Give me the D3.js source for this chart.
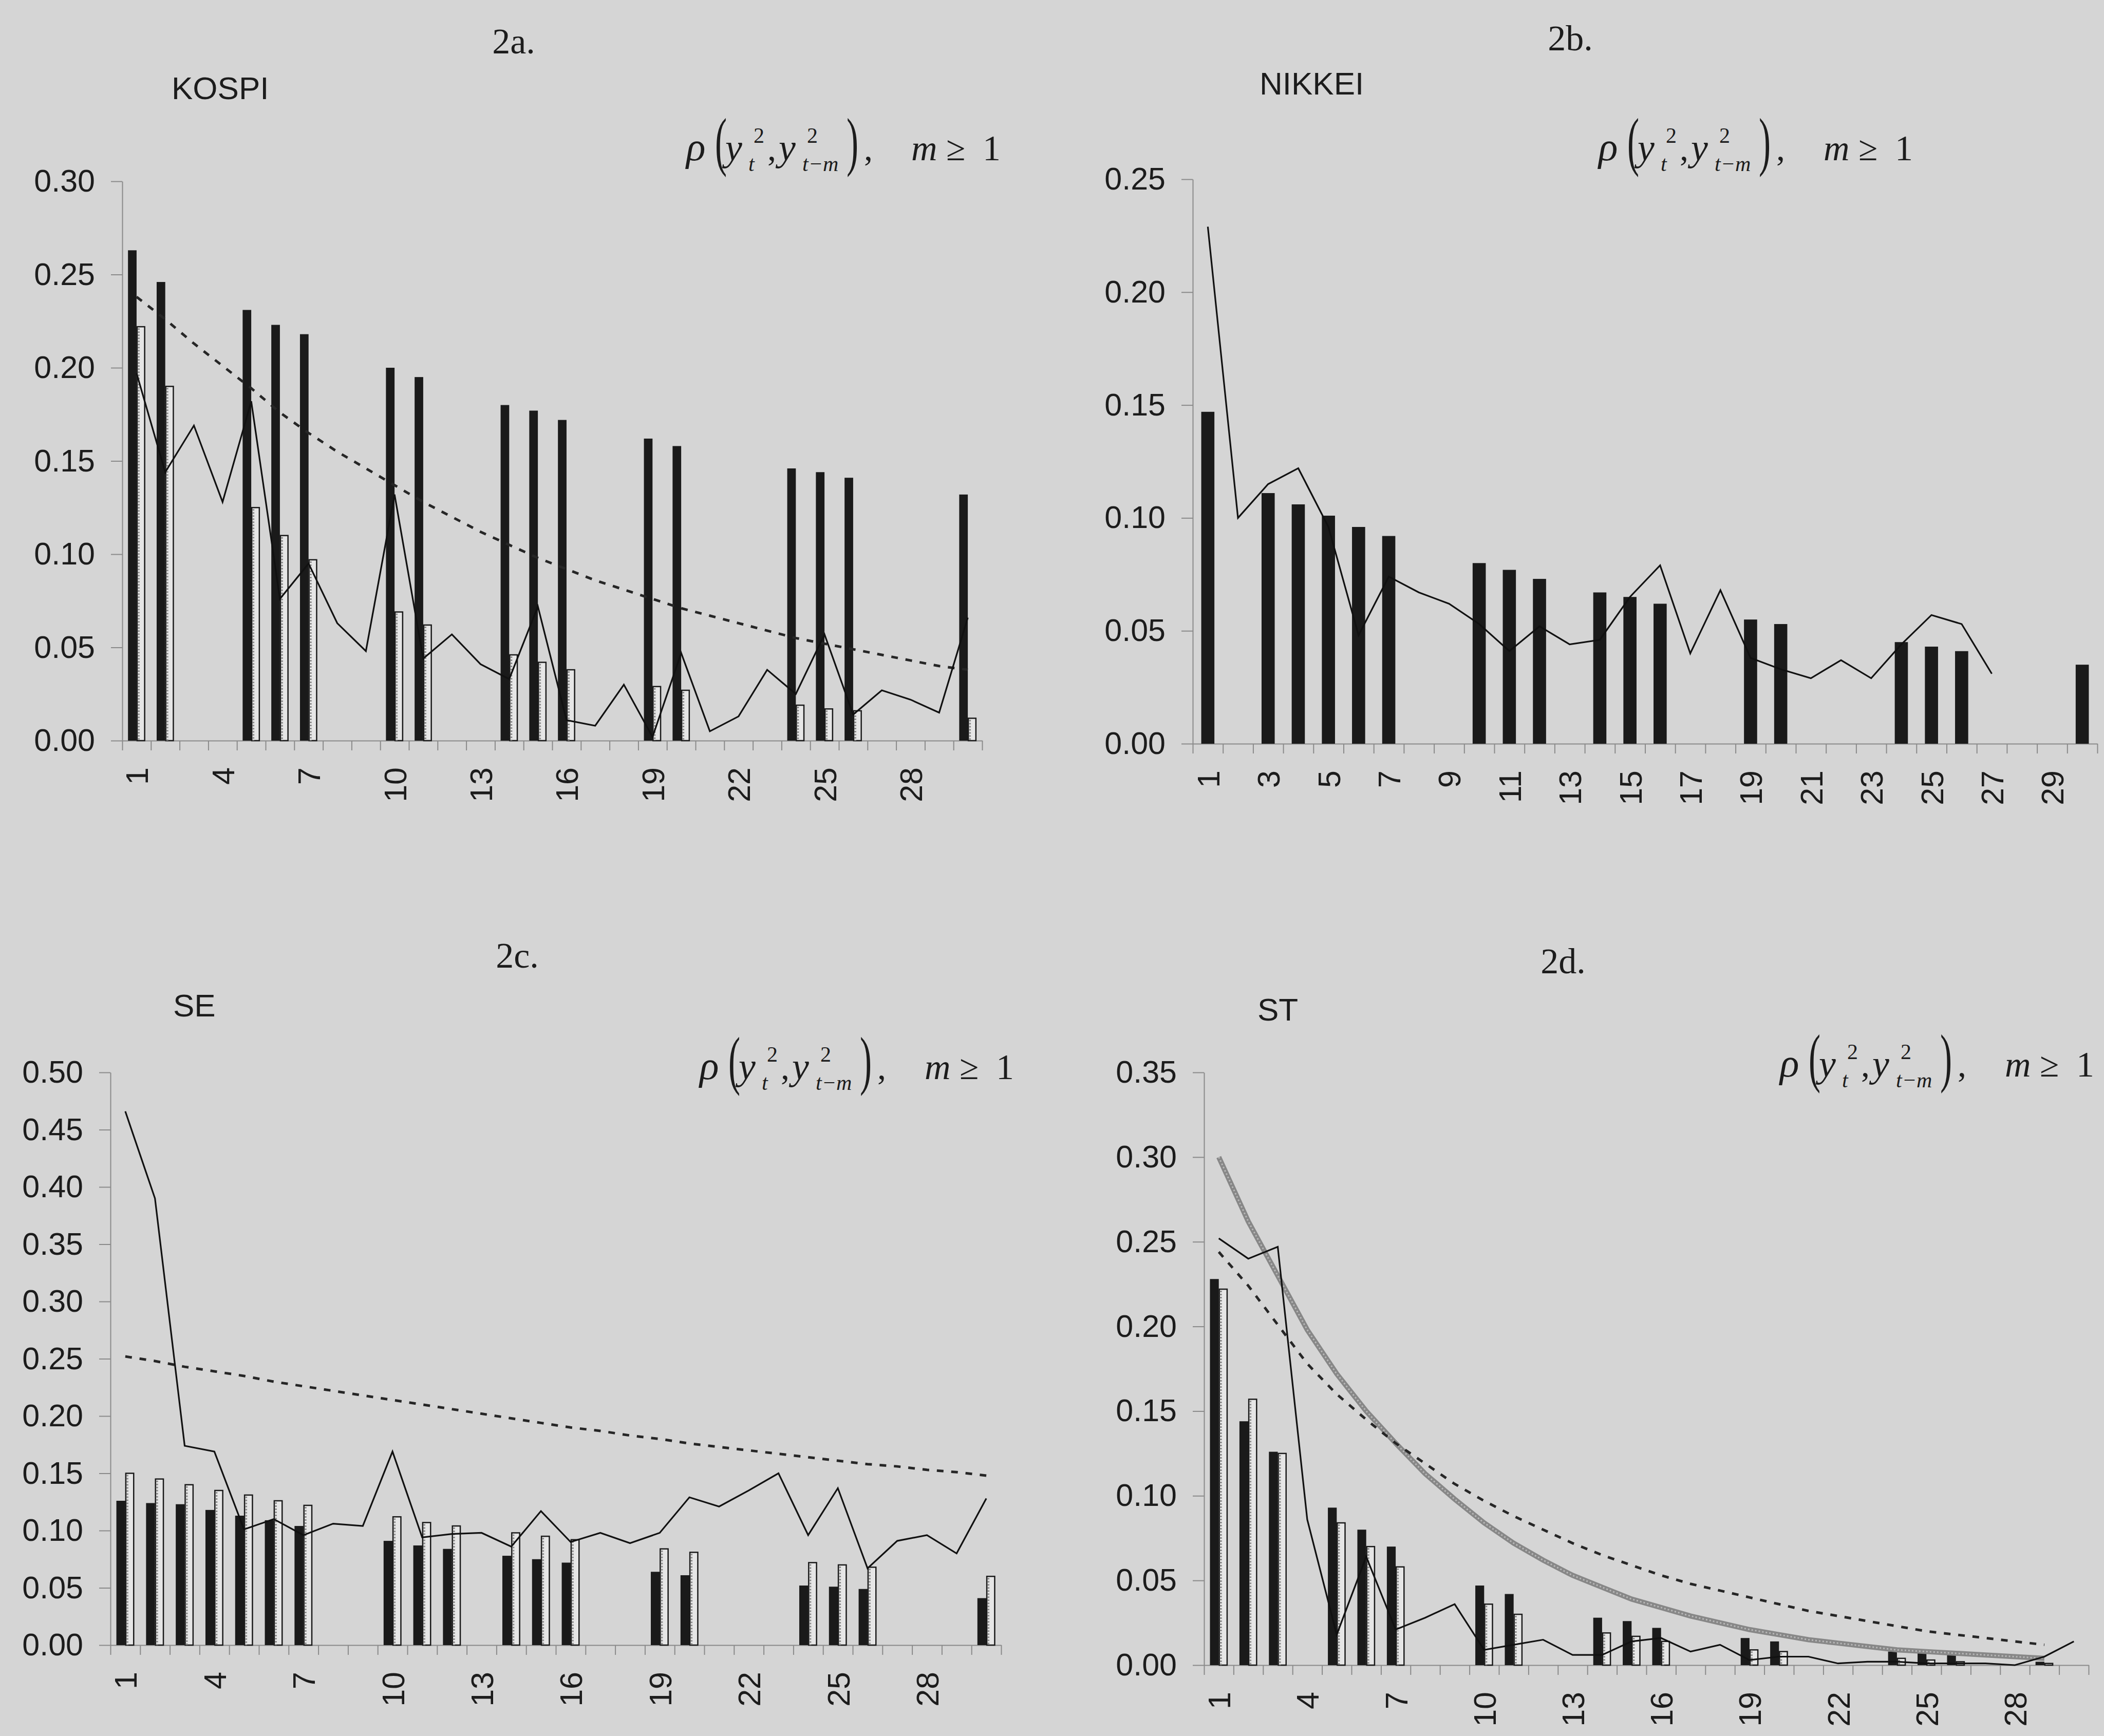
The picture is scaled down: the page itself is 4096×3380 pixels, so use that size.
<!DOCTYPE html>
<html>
<head>
<meta charset="utf-8">
<script src="https://cdn.jsdelivr.net/npm/d3@7"></script>
<style>
  body { margin: 0; background: #d5d5d5; }
  svg { display: block; }
</style>
</head>
<body>
<svg id="chart" width="4096" height="3380"></svg>
<script>
// ---- data ----
const lags = [1,2,3,4,5,6,7,8,9,10,11,12,13,14,15,16,17,18,19,20,21,22,23,24,25,26,27,28,29,30];
const labelsEvery3 = [1,4,7,10,13,16,19,22,25,28];
const labelsEvery2 = [1,3,5,7,9,11,13,15,17,19,21,23,25,27,29];

const yTicksA = [0, 0.05, 0.10, 0.15, 0.20, 0.25, 0.30];
const yTicksB = [0, 0.05, 0.10, 0.15, 0.20, 0.25];
const yTicksC = [0, 0.05, 0.10, 0.15, 0.20, 0.25, 0.30, 0.35, 0.40, 0.45, 0.50];
const yTicksD = [0, 0.05, 0.10, 0.15, 0.20, 0.25, 0.30, 0.35];

// 2a. KOSPI
const kospiBarLags = [1,2,5,6,7,10,11,14,15,16,19,20,24,25,26,30];
const kospiBlack = [0.263,0.246,0.231,0.223,0.218,0.200,0.195,0.180,0.177,0.172,0.162,0.158,0.146,0.144,0.141,0.132];
const kospiWhite = [0.222,0.190,0.125,0.110,0.097,0.069,0.062,0.046,0.042,0.038,0.029,0.027,0.019,0.017,0.016,0.012];
const kospiSolid = [0.197,0.144,0.169,0.128,0.182,0.076,0.095,0.063,0.048,0.132,0.044,0.057,0.041,0.033,0.072,
                    0.011,0.008,0.030,0.002,0.047,0.005,0.013,0.038,0.025,0.057,0.014,0.027,0.022,0.015,0.066];
const kospiDotted = [0.238,0.226,0.213,0.201,0.189,0.176,0.165,0.155,0.146,0.137,0.128,0.120,0.112,0.105,0.098,
                     0.092,0.086,0.081,0.076,0.071,0.067,0.063,0.059,0.055,0.052,0.049,0.046,0.043,0.040,0.038];

// 2b. NIKKEI
const nikkeiBarLags = [1,3,4,5,6,7,10,11,12,14,15,16,19,20,24,25,26,30];
const nikkeiBlack = [0.147,0.111,0.106,0.101,0.096,0.092,0.080,0.077,0.073,0.067,0.065,0.062,0.055,0.053,0.045,0.043,0.041,0.035];
const nikkeiSolid = [0.229,0.100,0.115,0.122,0.096,0.048,0.074,0.067,0.062,0.053,0.041,0.052,0.044,0.046,0.065,
                     0.079,0.040,0.068,0.038,0.033,0.029,0.037,0.029,0.044,0.057,0.053,0.031];

// 2c. SE
const seBarLags = [1,2,3,4,5,6,7,10,11,12,14,15,16,19,20,24,25,26,30];
const seBlack = [0.126,0.124,0.123,0.118,0.113,0.109,0.104,0.091,0.087,0.084,0.078,0.075,0.072,0.064,0.061,0.052,0.051,0.049,0.041];
const seWhite = [0.150,0.145,0.140,0.135,0.131,0.126,0.122,0.112,0.107,0.104,0.098,0.095,0.092,0.084,0.081,0.072,0.070,0.068,0.060];
const seSolid = [0.466,0.390,0.174,0.169,0.101,0.110,0.096,0.106,0.104,0.169,0.094,0.097,0.098,0.086,0.117,
                 0.090,0.098,0.089,0.098,0.129,0.121,0.135,0.150,0.096,0.137,0.067,0.091,0.096,0.080,0.128];
const seDotted = [0.252,0.248,0.243,0.239,0.235,0.230,0.226,0.222,0.218,0.214,0.210,0.206,0.202,0.198,0.194,
                  0.190,0.187,0.183,0.180,0.176,0.173,0.170,0.167,0.164,0.161,0.158,0.156,0.153,0.151,0.148];

// 2d. ST
const stBarLags = [1,2,3,5,6,7,10,11,14,15,16,19,20,24,25,26,29];
const stBlack = [0.228,0.144,0.126,0.093,0.080,0.070,0.047,0.042,0.028,0.026,0.022,0.016,0.014,0.008,0.007,0.006,0.002];
const stWhite = [0.222,0.157,0.125,0.084,0.070,0.058,0.036,0.030,0.019,0.017,0.014,0.009,0.008,0.004,0.003,0.002,0.001];
const stSolid = [0.252,0.240,0.247,0.086,0.018,0.064,0.021,0.028,0.036,0.009,0.012,0.015,0.006,0.006,0.014,
                 0.016,0.008,0.012,0.003,0.005,0.005,0.001,0.002,0.002,0.001,0.001,0.001,0.000,0.005,0.014];
const stDotted = [0.244,0.224,0.201,0.178,0.160,0.145,0.131,0.119,0.107,0.097,0.088,0.080,0.072,0.065,0.059,
                  0.053,0.048,0.044,0.040,0.036,0.032,0.029,0.026,0.023,0.020,0.018,0.016,0.014,0.012];
const stGray = [0.300,0.262,0.230,0.198,0.172,0.150,0.131,0.113,0.098,0.084,0.072,0.062,0.053,0.046,0.039,
                0.034,0.029,0.025,0.021,0.018,0.015,0.013,0.011,0.009,0.008,0.007,0.006,0.005,0.004];

// ---- layout ----
const SANS = 'Liberation Sans, Arial, sans-serif';
const SERIF = 'Liberation Serif, Times New Roman, serif';
const INK = '#1c1c1c';
const AXIS = '#8a8a8a';

const panels = [
  { title: '2a.', name: 'KOSPI', titleX: 1000, titleY: 104, nameX: 334, nameY: 193, fx: 1336, fy: 312,
    x0: 238, x1: 1912, yTop: 353, yZero: 1442, yTicks: yTicksA, labels: labelsEvery3, pairs: true,
    barLags: kospiBarLags, black: kospiBlack, white: kospiWhite, solid: kospiSolid, dotted: kospiDotted },
  { title: '2b.', name: 'NIKKEI', titleX: 3057, titleY: 98, nameX: 2452, nameY: 184, fx: 3112, fy: 312,
    x0: 2322, x1: 4083, yTop: 349, yZero: 1448, yTicks: yTicksB, labels: labelsEvery2, pairs: false,
    barLags: nikkeiBarLags, black: nikkeiBlack, solid: nikkeiSolid },
  { title: '2c.', name: 'SE', titleX: 1007, titleY: 1884, nameX: 337, nameY: 1979, fx: 1362, fy: 2101,
    x0: 215, x1: 1949, yTop: 2088, yZero: 3203, yTicks: yTicksC, labels: labelsEvery3, pairs: true,
    barLags: seBarLags, black: seBlack, white: seWhite, solid: seSolid, dotted: seDotted },
  { title: '2d.', name: 'ST', titleX: 3043, titleY: 1895, nameX: 2448, nameY: 1987, fx: 3465, fy: 2096,
    x0: 2344, x1: 4066, yTop: 2088, yZero: 3242, yTicks: yTicksD, labels: labelsEvery3, pairs: true,
    barLags: stBarLags, black: stBlack, white: stWhite, solid: stSolid, dotted: stDotted, gray: stGray }
];

const svg = d3.select('#chart');
svg.append('rect').attr('width', 4096).attr('height', 3380).attr('fill', '#d5d5d5');

function drawFormula(g, fx, fy) {
  const f = g.append('g').attr('transform', `translate(${fx},${fy})`)
    .attr('fill', INK).attr('font-family', SERIF);
  const parts = [
    { s: 'ρ', dx: 0, dy: 0, size: 78, it: true },
    { s: 'y', dx: 76, dy: 0, size: 74, it: true },
    { s: '2', dx: 131, dy: -34, size: 42 },
    { s: 't', dx: 121, dy: 21, size: 42, it: true },
    { s: ',', dx: 158, dy: 0, size: 68 },
    { s: 'y', dx: 180, dy: 0, size: 74, it: true },
    { s: '2', dx: 235, dy: -34, size: 42 },
    { s: 't−m', dx: 226, dy: 21, size: 42, it: true },
    { s: ',', dx: 346, dy: 0, size: 68 },
    { s: 'm', dx: 438, dy: 0, size: 70, it: true },
    { s: '≥', dx: 506, dy: 0, size: 68 },
    { s: '1', dx: 577, dy: 0, size: 70 }
  ];
  parts.forEach(p => {
    f.append('text').attr('x', p.dx).attr('y', p.dy)
      .attr('font-size', p.size).attr('font-style', p.it ? 'italic' : 'normal').text(p.s);
  });
  [['(', 56], [')', 312]].forEach(([s, dx]) => {
    f.append('text').attr('transform', `translate(${dx},6) scale(0.55,1)`)
      .attr('font-size', 126).text(s);
  });
}

function drawPanel(p) {
  const g = svg.append('g');

  const xLin = d3.scaleLinear().domain([0, 30]).range([p.x0, p.x1]);
  const band = d3.scaleBand().domain(lags).range([p.x0, p.x1]).padding(0);
  const bw = band.bandwidth();
  const cx = k => band(k) + bw / 2;
  const y = d3.scaleLinear().domain([0, p.yTicks[p.yTicks.length - 1]]).range([p.yZero, p.yTop]);

  // titles
  g.append('text').attr('x', p.titleX).attr('y', p.titleY).attr('text-anchor', 'middle')
    .attr('font-family', SERIF).attr('font-size', 70).attr('fill', INK).text(p.title);
  g.append('text').attr('x', p.nameX).attr('y', p.nameY)
    .attr('font-family', SANS).attr('font-size', 62).attr('fill', INK).text(p.name);
  drawFormula(g, p.fx, p.fy);

  // y axis
  const yAxis = g.append('g').attr('transform', `translate(${p.x0},0)`)
    .call(d3.axisLeft(y).tickValues(p.yTicks).tickFormat(d3.format('.2f'))
      .tickSize(22).tickSizeOuter(0).tickPadding(31));
  yAxis.select('.domain').attr('stroke', AXIS).attr('stroke-width', 2);
  yAxis.selectAll('.tick line').attr('stroke', AXIS).attr('stroke-width', 2);
  yAxis.selectAll('.tick text').attr('font-family', SANS).attr('font-size', 61).attr('fill', INK);

  // x axis: tick marks on category boundaries
  const xAxis = g.append('g').attr('transform', `translate(0,${p.yZero})`)
    .call(d3.axisBottom(xLin).tickValues(d3.range(0, 31)).tickFormat('').tickSize(19).tickSizeOuter(0));
  xAxis.select('.domain').attr('stroke', AXIS).attr('stroke-width', 2);
  xAxis.selectAll('.tick line').attr('stroke', AXIS).attr('stroke-width', 2);

  // x labels, rotated, at category centres
  const xLab = g.append('g').attr('transform', `translate(0,${p.yZero})`)
    .call(d3.axisBottom(xLin).tickValues(p.labels.map(k => k - 0.5)).tickFormat(d => d3.format('d')(d + 0.5))
      .tickSize(0).tickSizeOuter(0));
  xLab.select('.domain').remove();
  xLab.selectAll('.tick text')
    .attr('transform', 'rotate(-90)').attr('text-anchor', 'end')
    .attr('x', -52).attr('y', 0).attr('dy', '0.36em')
    .attr('font-family', SANS).attr('font-size', 61).attr('fill', INK);

  // bars
  const blackData = p.barLags.map((k, i) => ({ k, v: p.black[i] }));
  if (p.pairs) {
    const w = bw * 0.3;
    g.append('g').selectAll('rect').data(blackData).join('rect')
      .attr('x', d => cx(d.k) - w).attr('width', w)
      .attr('y', d => y(d.v)).attr('height', d => y(0) - y(d.v))
      .attr('fill', '#1a1a1a');
    const whiteData = p.barLags.map((k, i) => ({ k, v: p.white[i] }));
    const wg = g.append('g');
    wg.selectAll('rect').data(whiteData).join('rect')
      .attr('x', d => cx(d.k) + 1).attr('width', w - 2)
      .attr('y', d => y(d.v)).attr('height', d => y(0) - y(d.v))
      .attr('fill', '#e6e6e6').attr('stroke', '#1a1a1a').attr('stroke-width', 2.5);
    wg.selectAll('line').data(whiteData).join('line')
      .attr('x1', d => cx(d.k) + 4).attr('x2', d => cx(d.k) + 4)
      .attr('y1', d => y(d.v) + 3).attr('y2', y(0))
      .attr('stroke', '#8a8a8a').attr('stroke-width', 4).attr('stroke-dasharray', '3,3');
  } else {
    const w = bw * 0.436;
    g.append('g').selectAll('rect').data(blackData).join('rect')
      .attr('x', d => cx(d.k) - w / 2).attr('width', w)
      .attr('y', d => y(d.v)).attr('height', d => y(0) - y(d.v))
      .attr('fill', '#1a1a1a');
  }

  const line = d3.line().x((v, i) => cx(lags[i])).y(v => y(v));

  if (p.gray) {
    g.append('path').datum(p.gray).attr('d', line).attr('fill', 'none')
      .attr('stroke', '#878787').attr('stroke-width', 10);
    g.append('path').datum(p.gray).attr('d', line).attr('fill', 'none')
      .attr('stroke', '#b8b8b8').attr('stroke-width', 3).attr('stroke-dasharray', '3,4');
  }
  if (p.dotted) {
    g.append('path').datum(p.dotted).attr('d', line).attr('fill', 'none')
      .attr('stroke', '#262626').attr('stroke-width', 5).attr('stroke-dasharray', '13,15');
  }
  g.append('path').datum(p.solid).attr('d', line).attr('fill', 'none')
    .attr('stroke', '#111').attr('stroke-width', 3.2).attr('stroke-linejoin', 'miter');
}

panels.forEach(drawPanel);
</script>
</body>
</html>
